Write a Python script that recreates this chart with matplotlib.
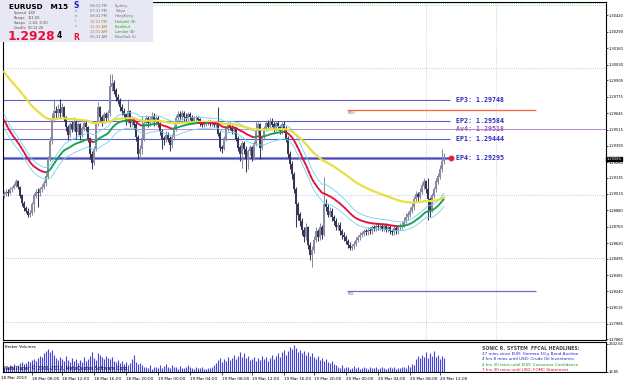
import numpy as np
import matplotlib
matplotlib.use("Agg")
import matplotlib.pyplot as plt
from matplotlib.collections import LineCollection
from matplotlib.patches import Rectangle

W, H = 625, 385

# EURUSD M15 bars, in pips above ref_price
ref_price = 1.28025
first_open = 97
close_pips = [98, 100, 99, 102, 103, 105, 108, 104, 97, 91, 87, 85, 82, 83, 90, 97, 100, 99, 102, 104,
              107, 112, 126, 140, 158, 164, 162, 165, 162, 167, 159, 151, 145, 153, 150, 156, 147, 153, 145, 150,
              154, 151, 142, 130, 123, 134, 154, 167, 159, 156, 161, 158, 162, 183, 186, 180, 175, 172, 167, 164,
              161, 156, 164, 154, 158, 153, 143, 130, 134, 142, 154, 158, 154, 157, 160, 155, 158, 154, 148, 142,
              141, 145, 142, 137, 143, 150, 158, 161, 159, 162, 159, 158, 161, 159, 156, 158, 159, 157, 154, 153,
              154, 154, 155, 154, 154, 153, 154, 146, 135, 134, 142, 150, 153, 151, 148, 150, 142, 135, 130, 138,
              134, 126, 132, 135, 127, 138, 148, 153, 135, 143, 150, 154, 151, 156, 153, 150, 154, 151, 148, 153,
              150, 142, 130, 122, 114, 102, 90, 82, 77, 70, 64, 72, 58, 50, 54, 62, 69, 64, 72, 66,
              90, 88, 82, 85, 80, 77, 72, 74, 69, 66, 64, 61, 58, 56, 57, 59, 62, 64, 66, 67,
              69, 68, 70, 69, 72, 71, 73, 72, 73, 71, 73, 70, 72, 69, 68, 71, 69, 72, 73, 74,
              77, 80, 82, 85, 88, 94, 98, 96, 100, 105, 108, 102, 94, 86, 97, 102, 108, 112, 118, 124,
              125.9]
high_pips = [101, 102, 102, 104, 105, 107, 110, 109, 105, 98, 93, 89, 87, 86, 92, 99, 102, 103, 104, 106,
             109, 115, 128, 143, 162, 173, 168, 169, 173, 170, 168, 160, 153, 155, 156, 159, 157, 155, 154, 152,
             157, 157, 152, 143, 132, 136, 156, 171, 168, 161, 163, 163, 165, 193, 193, 188, 182, 177, 174, 169,
             166, 162, 173, 165, 160, 159, 155, 145, 137, 160, 157, 161, 160, 160, 163, 162, 161, 160, 155, 150,
             144, 148, 147, 144, 146, 153, 161, 164, 164, 165, 164, 162, 163, 163, 161, 160, 161, 160, 158, 156,
             156, 156, 157, 157, 156, 156, 156, 167, 148, 137, 144, 152, 156, 155, 153, 152, 151, 144, 137, 140,
             140, 136, 134, 137, 136, 140, 156, 155, 154, 145, 152, 156, 157, 158, 158, 155, 156, 156, 153, 155,
             156, 152, 144, 132, 124, 116, 104, 92, 84, 79, 72, 75, 73, 60, 57, 65, 72, 71, 75, 74,
             112, 94, 90, 88, 87, 82, 79, 76, 76, 71, 68, 66, 63, 60, 59, 61, 64, 66, 68, 69,
             71, 71, 72, 72, 74, 74, 75, 75, 75, 75, 75, 75, 74, 74, 71, 73, 73, 74, 75, 76,
             80, 83, 85, 88, 91, 97, 101, 100, 103, 108, 111, 109, 111, 96, 99, 104, 111, 115, 121, 134,
             131]
low_pips = [95, 97, 97, 98, 100, 102, 104, 102, 95, 89, 85, 83, 80, 80, 82, 84, 95, 88, 97, 100,
            102, 105, 110, 124, 138, 155, 158, 159, 158, 160, 156, 148, 141, 143, 147, 148, 142, 145, 141, 143,
            148, 148, 139, 126, 118, 121, 132, 152, 156, 152, 154, 155, 156, 160, 180, 177, 172, 169, 164, 161,
            158, 153, 154, 151, 152, 150, 140, 126, 127, 130, 140, 152, 151, 152, 155, 152, 153, 151, 145, 134,
            137, 139, 139, 132, 135, 141, 148, 156, 157, 157, 156, 155, 156, 157, 154, 154, 156, 155, 152, 151,
            151, 152, 153, 152, 152, 151, 151, 144, 132, 131, 133, 140, 148, 149, 146, 146, 140, 132, 124, 119,
            130, 116, 118, 129, 124, 125, 136, 146, 126, 133, 141, 148, 149, 149, 151, 147, 148, 149, 146, 146,
            147, 139, 127, 118, 110, 99, 72, 78, 73, 66, 60, 62, 55, 46, 41, 52, 60, 61, 62, 63,
            65, 85, 80, 80, 77, 74, 70, 70, 66, 63, 61, 59, 56, 54, 54, 55, 57, 60, 62, 64,
            65, 66, 66, 67, 67, 69, 69, 70, 70, 69, 69, 68, 68, 67, 66, 66, 67, 67, 70, 71,
            72, 75, 78, 80, 83, 86, 92, 93, 94, 98, 102, 99, 78, 80, 84, 95, 100, 106, 110, 116,
            122]
volumes = [400, 500, 450, 600, 550, 700, 500, 650, 800, 900, 700, 850, 1000, 900, 1100,
           1200, 1000, 1300, 1500, 1400, 1700, 1900, 2100, 1800, 2000, 1600,
           1300, 1100, 1400, 1200, 1000, 1500, 1100, 900, 1300, 1000, 1200, 800, 1100, 900, 1400, 1000, 1200,
           1500, 1800, 1300, 1100, 1700, 1600, 1400, 1200, 1500, 1300,
           1200, 1400, 1000, 900, 1100, 800, 1000, 700, 900, 600, 800, 1200, 1600, 900, 700, 800, 600, 500,
           500, 400, 600, 300, 500, 450, 350, 600, 400, 550, 700, 500, 400, 650, 500, 450, 300, 550, 400, 350,
           500, 600, 450, 400, 300, 500, 350, 400, 450, 300, 250, 400, 350, 500, 600,
           800, 1100, 1300, 900, 1200, 1000, 1400, 1100, 1300, 1600, 1200, 1500, 1800, 1400, 1700, 1300, 1500,
           1100, 1200, 1400,
           1000, 1300, 1100, 1500, 1200, 1400, 1000, 1300, 1600, 1200, 1500, 1700, 1400, 1800, 2000, 1600, 1900,
           2300, 2100, 2500, 2200, 1800, 2000, 1700, 1900,
           1600, 1800, 1500, 1700, 1400, 1200, 1500, 1100, 1300, 1000, 1200, 900, 800, 1000, 700, 600,
           500, 400, 600, 350, 450, 500, 300, 400, 550, 350, 450, 300, 400, 500, 350, 300, 450, 400, 350, 500,
           300, 400, 450, 350, 300, 400, 500, 350, 450, 300, 400, 350, 500, 450, 400, 600, 500, 700, 650,
           1200, 1500, 1300, 1600, 1400, 1800, 1300, 1700, 1500, 1900, 1400, 1600, 1200, 1500, 1300]

# moving average values at the left edge (pips)
seed_ema89 = 197
seed_ema34 = 160.6
seed_ema34_high = 165.4
seed_ema34_low = 154

level_names = ["EP3", "EP2", "Av4", "EP1", "EP4"]
level_values = [1.29748, 1.29584, 1.29518, 1.29444, 1.29295]
rdh = 1.29675
rdl = 1.28245
last_price = 1.29284
round_blue = [1.3000, 1.2900, 1.2800]
round_green = [1.3050, 1.2850]

price_ticks = [1.30420, 1.30290, 1.30160, 1.30030, 1.29905, 1.29775, 1.29645, 1.29515, 1.29390,
               1.29260, 1.29135, 1.29010, 1.28880, 1.28750, 1.28620, 1.28495, 1.28365, 1.28240,
               1.28115, 1.27985, 1.27860]
time_ticks = [14, 29, 45, 61, 77, 93, 109, 124, 140, 155, 171, 187, 203, 218]
time_labels = ["18 Mar 08:00", "18 Mar 12:00", "18 Mar 16:00", "18 Mar 20:00", "19 Mar 00:00",
               "19 Mar 04:00", "19 Mar 08:00", "19 Mar 12:00", "19 Mar 16:00", "19 Mar 20:00",
               "20 Mar 00:00", "20 Mar 04:00", "20 Mar 08:00", "20 Mar 12:00"]

clock_times = ["08:31 PM", "07:31 PM", "08:31 PM", "12:31 PM", "11:31 AM", "10:31 AM", "06:31 AM"]
clock_cities = ["Sydney", "Tokyo", "HongKong", "Helsinki (B)", "Frankfurt", "London (B)", "NewYork (L)"]
headlines = ["37 mins since EUR: German 10-y Bond Auction",
             "4 hrs 8 mins until USD: Crude Oil Inventories",
             "4 hrs 30 mins until EUR: Consumer Confidence",
             "7 hrs 30 mins until USD: FOMC Statement"]
headline_colors = ["#2020d0", "#2020d0", "#10a010", "#e01030"]


def ema(values, period, seed):
    k = 2.0 / (period + 1)
    out = []
    prev = seed
    for v in values:
        prev = prev + k * (v - prev)
        out.append(prev)
    return np.array(out)


n = len(close_pips)
idx = np.arange(n)
c = ref_price + np.array(close_pips) / 1e4
o = np.concatenate([[ref_price + first_open / 1e4], c[:-1]])
hi = np.maximum(ref_price + np.array(high_pips) / 1e4, np.maximum(o, c))
lo = np.minimum(ref_price + np.array(low_pips) / 1e4, np.minimum(o, c))
up = c >= o

fig = plt.figure(figsize=(W / 100, H / 100), dpi=100)
ax = fig.add_axes([3 / W, 1 - 340 / H, 603 / W, 338 / H])
axv = fig.add_axes([3 / W, 1 - 372 / H, 603 / W, 30 / H], sharex=ax)

# round numbers and separators
for p in round_blue:
    ax.axhline(p, color="#b4b4e4", lw=0.6, ls=(0, (1, 1.5)), zorder=1)
for p in round_green:
    ax.axhline(p, color="#90d090", lw=0.6, ls=(0, (1, 1.5)), zorder=1)
for xv in [211, 246]:
    ax.axvline(xv, color="#c4c4dc", lw=0.6, ls=(0, (1, 1.5)), zorder=1)

# candles
cols = ["#8a8aa2" if u else "#363656" for u in up]
ax.vlines(idx, lo, hi, colors=cols, lw=0.75, zorder=3)
ax.bar(idx, np.abs(c - o) + 0.00002, bottom=np.minimum(o, c), width=0.9, color=cols, zorder=3)

# sonic R dragon
e89 = ref_price + ema(close_pips, 89, seed_ema89) / 1e4
e34 = ref_price + ema(close_pips, 34, seed_ema34) / 1e4
e34h = ref_price + ema(high_pips, 34, seed_ema34_high) / 1e4
e34l = ref_price + ema(low_pips, 34, seed_ema34_low) / 1e4
ax.plot(idx, e34h, color="#70d4ec", lw=0.6, zorder=4)
ax.plot(idx, e34l, color="#70d4ec", lw=0.6, zorder=4)
ax.plot(idx, e89, color="#e6e040", lw=1.6, zorder=4)
pts = np.column_stack([idx, e34])
segs = np.stack([pts[:-1], pts[1:]], axis=1)
seg_cols = ["#10a050" if e34[i + 1] >= e34[i] else "#e0103c" for i in range(n - 1)]
ax.add_collection(LineCollection(segs, colors=seg_cols, lw=1.4, zorder=5))

# entry levels
for name, val in zip(level_names, level_values):
    if name == "Av4":
        ax.axhline(val, color="#b888d8", lw=0.7, zorder=2)
        tcol = "#9a5ab0"
    elif name == "EP4":
        ax.hlines(val, -0.5, 223, color="#9090d8", lw=2.2, zorder=2)
        ax.hlines(val, -0.5, 223, color="#4a4ab4", lw=0.8, zorder=2)
        tcol = "#2a2ab8"
    else:
        ax.hlines(val, -0.5, 223, color="#5c5cd0", lw=0.8, zorder=2)
        tcol = "#2a2ab8"
    ax.text(226, val, f"{name}: {val:.5f}", color=tcol, fontsize=4.8, fontweight="bold",
            family="DejaVu Sans Mono", va="center", zorder=6)
ax.plot([223.5], [level_values[-1]], "o", color="#e8203c", ms=3.2, zorder=6)

ax.hlines(rdh, 171.5, 266, color="#ff6040", lw=0.9, zorder=2)
ax.hlines(rdl, 171.5, 266, color="#6a6ad8", lw=0.9, zorder=2)
ax.text(172, rdh - 0.0003, "RDH", fontsize=2.6, color="#707080", va="center")
ax.text(172, rdl - 0.0003, "RDL", fontsize=2.6, color="#707080", va="center")

ax.set_xlim(-0.5, 301)
ax.set_ylim(1.27855, 1.30524)
ax.yaxis.tick_right()
ax.set_yticks(price_ticks)
ax.set_yticklabels([f"{p:.5f}" for p in price_ticks])
ax.tick_params(axis="y", labelsize=2.6, length=1.5, width=0.5, pad=0.5)
ax.tick_params(axis="x", bottom=False, labelbottom=False)
ax.text(1.0015, last_price, f"{last_price:.5f}", transform=ax.get_yaxis_transform(),
        fontsize=2.6, color="white", va="center", ha="left", zorder=7,
        bbox=dict(boxstyle="square,pad=0.12", fc="black", ec="black"))

# volumes
axv.vlines(idx, 0, volumes, color="#4444dc", lw=0.8)
axv.set_ylim(0, 2750)
axv.yaxis.tick_right()
axv.set_yticks([2602.65, 18.85])
axv.set_yticklabels(["2602.65", "18.85"])
axv.tick_params(axis="y", labelsize=2.6, length=1.5, width=0.5, pad=0.5)
axv.set_xticks(time_ticks)
axv.set_xticklabels(time_labels)
axv.tick_params(axis="x", labelsize=3.0, length=2, width=0.5, pad=1.5)
for lbl in axv.get_xticklabels():
    lbl.set_ha("left")
axv.text(0.003, 0.85, "Broker Volumes", transform=axv.transAxes, fontsize=2.8, va="center")
axv.text(0.001, 0.13, "MetaTrader \u00a9 2001-2012, MetaQuotes Software Corp.", transform=axv.transAxes,
         fontsize=3.3, va="center")

for a in (ax, axv):
    for s in a.spines.values():
        s.set_color("black")
        s.set_linewidth(0.8)


def ftext(px, py, s, **kw):
    kw.setdefault("va", "center")
    fig.text(px / W, 1 - py / H, s, zorder=6, **kw)


ftext(1, 378, "18 Mar 2013", fontsize=3.0)

# headlines block
ftext(482, 348, "SONIC R. SYSTEM  FFCAL HEADLINES:", fontsize=3.3, fontweight="bold", color="#404040")
for k, (t, col) in enumerate(zip(headlines, headline_colors)):
    ftext(482, 354 + 5.4 * k, t, fontsize=3.0, color=col)

# info box
fig.patches.append(Rectangle((0, 1 - 42 / H), 153 / W, 42 / H, transform=fig.transFigure,
                             facecolor="#e8e8f4", edgecolor="none", zorder=5))
fig.add_artist(plt.Line2D([153 / W, 606 / W], [1 - 3 / H, 1 - 3 / H], transform=fig.transFigure,
                          color="#90d090", lw=0.6, ls=(0, (1, 1.5)), zorder=5))
ftext(9, 7, "EURUSD   M15", fontsize=5.3, fontweight="bold")
for k, (lab, val) in enumerate(zip(["Spread", "Range", "Swaps", "Candle"],
                                   ["1.80", "111.60", "-1.02, 0.30", "00:12:26"])):
    ftext(14, 13 + 5 * k, lab, fontsize=2.6, color="#505050")
    ftext(28, 13 + 5 * k, val, fontsize=2.6, color="#505050")
ftext(8, 36.5, "1.2928", fontsize=8.8, fontweight="bold", color="#e8103c")
ftext(57, 35, "4", fontsize=5.5, fontweight="bold")
ftext(73, 6, "S", fontsize=5.5, fontweight="bold", color="#2020d0")
for k, ch in enumerate("onic"):
    ftext(75, 11 + 5 * k, ch, fontsize=3.0, color="#7070d8")
ftext(73, 37, "R", fontsize=5.5, fontweight="bold", color="#e8103c")
for k, (t, city) in enumerate(zip(clock_times, clock_cities)):
    tcol, ccol = ("#707070", "#707070")
    if 3 <= k <= 5:
        tcol, ccol = ("#b07830", "#20a020")
    ftext(90, 6 + 5.2 * k, t, fontsize=2.6, color=tcol)
    ftext(115, 6 + 5.2 * k, city, fontsize=2.6, color=ccol)

fig.savefig("out.png", dpi=100)
